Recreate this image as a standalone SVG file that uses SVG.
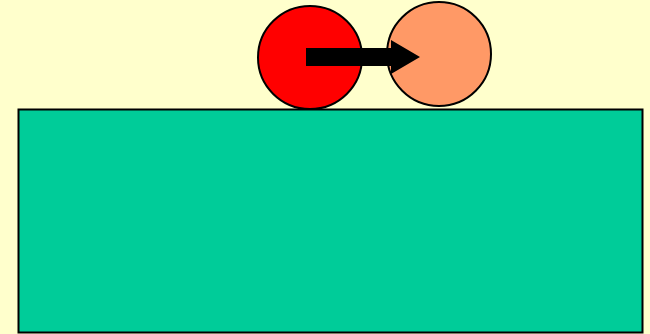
<svg xmlns="http://www.w3.org/2000/svg" width="650" height="334" viewBox="0 0 650 334">
<style>
.n{stroke:#000;stroke-width:2}
</style>
<rect width="650" height="334" fill="#FFFFCC"/>
<g id="base"><rect class="n" x="18.5" y="109.5" width="624" height="223" fill="#00CC99" stroke-width="2.5"/></g>
<g id="red"><ellipse class="n" cx="310" cy="57.5" rx="52" ry="51.5" fill="#FF0000"/></g>
<g id="orange"><ellipse class="n" cx="439" cy="54" rx="52" ry="52" fill="#FF9966"/></g>
<g id="connectors"><polygon points="306,48 391,48 391,40 420,57 391,74 391,66 306,66" fill="#000"/></g>
</svg>
